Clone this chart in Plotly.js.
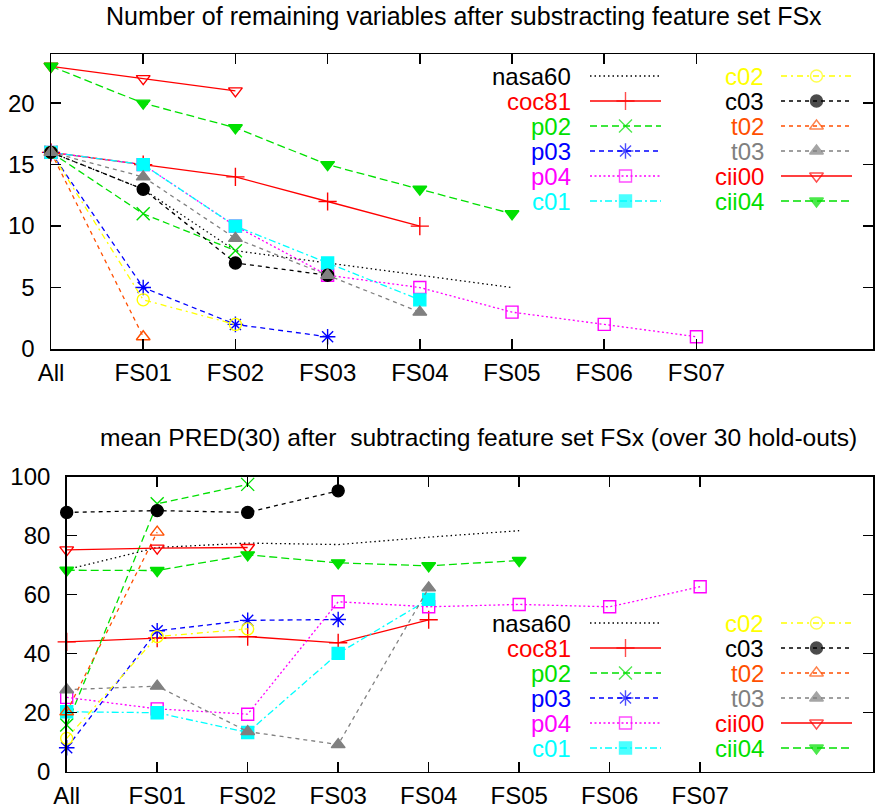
<!DOCTYPE html>
<html><head><meta charset="utf-8">
<script src="https://cdn.plot.ly/plotly-3.0.1.min.js"></script>
<style>html,body{margin:0;padding:0;background:#fff}#chart{width:875px;height:812px}</style>
</head><body><div id="chart"></div>
<script>
// ---- data ----
const categories = ["All","FS01","FS02","FS03","FS04","FS05","FS06","FS07"];
const seriesNames = ["nasa60","coc81","p02","p03","p04","c01","c02","c03","t02","t03","cii00","cii04"];

// Number of remaining variables
const vars_nasa60 = [16,13,8,7,6,5];
const vars_coc81  = [16,15,14,12,10];
const vars_p02    = [16,11,8];
const vars_p03    = [16,5,2,1];
const vars_p04    = [16,15,10,6,5,3,2,1];
const vars_c01    = [16,15,10,7,4];
const vars_c02    = [16,4,2];
const vars_c03    = [16,13,7,6];
const vars_t02    = [16,1];
const vars_t03    = [16,14,9,6,3];
const vars_cii00  = [23,22,21];
const vars_cii04  = [23,20,18,15,13,11];

// mean PRED(30)
const pred_nasa60 = [68.5,76,77.5,77,79.5,81.7];
const pred_coc81  = [44,45.3,45.8,43.7,51.5];
const pred_p02    = [15.8,90.8,97.4];
const pred_p03    = [8.1,47.8,51.3,51.6];
const pred_p04    = [25.2,21.3,19.5,57.6,55.9,56.7,55.9,62.7];
const pred_c01    = [20.3,20,13.3,40.1,58.4];
const pred_c02    = [11.3,45.8,48.4];
const pred_c03    = [87.9,88.5,87.9,95.2];
const pred_t02    = [20.3,81.2];
const pred_t03    = [27.8,29,13.6,9.2,62.3];
const pred_cii00  = [75.2,75.8,76];
const pred_cii04  = [68.3,68.2,73.5,70.8,69.8,71.6];

const topTitle = "Number of remaining variables after substracting feature set FSx";
const botTitle = "mean PRED(30) after  subtracting feature set FSx (over 30 hold-outs)";
const topYTicks = [0,5,10,15,20];
const botYTicks = [0,20,40,60,80,100];

// ---- styles ----
const styles = {
  nasa60:{color:"#000000", dash:"1.5px,3px", symbol:null},
  coc81: {color:"#ff0000", dash:"solid", symbol:"cross-thin-open"},
  p02:   {color:"#00e000", dash:"7px,4px", symbol:"x-thin-open"},
  p03:   {color:"#0000ff", dash:"5px,4px", symbol:"asterisk-open"},
  p04:   {color:"#ff00ff", dash:"2px,2.5px", symbol:"square-open"},
  c01:   {color:"#00ffff", dash:"7px,3px,2px,3px", symbol:"square"},
  c02:   {color:"#ffff00", dash:"6px,4px,2px,4px", symbol:"circle-open"},
  c03:   {color:"#000000", dash:"4px,4px", symbol:"circle"},
  t02:   {color:"#ff4f00", dash:"4px,4px", symbol:"triangle-up-open"},
  t03:   {color:"#808080", dash:"4px,4px", symbol:"triangle-up"},
  cii00: {color:"#ff0000", dash:"solid", symbol:"triangle-down-open"},
  cii04: {color:"#00e000", dash:"8px,4px", symbol:"triangle-down"}
};
const varsData = {nasa60:vars_nasa60,coc81:vars_coc81,p02:vars_p02,p03:vars_p03,p04:vars_p04,c01:vars_c01,c02:vars_c02,c03:vars_c03,t02:vars_t02,t03:vars_t03,cii00:vars_cii00,cii04:vars_cii04};
const predData = {nasa60:pred_nasa60,coc81:pred_coc81,p02:pred_p02,p03:pred_p03,p04:pred_p04,c01:pred_c01,c02:pred_c02,c03:pred_c03,t02:pred_t02,t03:pred_t03,cii00:pred_cii00,cii04:pred_cii04};

const W = 875, H = 812;
const FONT = "Liberation Sans, Arial, sans-serif";
const TITLE_FS = 25, TICK_FS = 24, LEG_FS = 24;

function markerSize(sym){
  if(!sym) return 0;
  if(sym.indexOf("circle")===0) return 12;
  if(sym.indexOf("square")===0) return 12;
  if(sym.indexOf("triangle")===0) return 12;
  return 13;
}

const traces = [];
function makeTrace(s, x, y, xa, ya, sizes){
  const t = {type:"scatter", mode: s.symbol ? "lines+markers" : "lines", x:x, y:y, xaxis:xa, yaxis:ya,
    line:{color:s.color, width:1.3, dash:s.dash}, showlegend:false, hoverinfo:"skip", cliponaxis:false};
  if(s.symbol){
    t.marker = {symbol:s.symbol, size: sizes || markerSize(s.symbol), color:s.color, line:{color:s.color, width:1.4}};
  }
  return t;
}
function addSeries(dataMap, xa, ya){
  seriesNames.forEach(n=>{
    const ys = dataMap[n];
    traces.push(makeTrace(styles[n], categories.slice(0, ys.length), ys, xa, ya));
  });
}
addSeries(varsData, "x", "y");
addSeries(predData, "x2", "y2");

// ---- manual legends (pixel coordinates on hidden overlay axes) ----
const annotations = [];
function addLegend(rowY0, rowStep){
  seriesNames.forEach((n,i)=>{
    const col = Math.floor(i/6), row = i%6;
    const textR = col===0 ? 573 : 766;
    const l1 = col===0 ? 590 : 781, l2 = col===0 ? 661 : 852;
    const y = rowY0 + row*rowStep;
    const s = styles[n];
    annotations.push({xref:"x3", yref:"y3", x:textR, y:y, text:n, showarrow:false, xanchor:"right", yanchor:"middle",
      font:{family:FONT, size:LEG_FS, color:s.color}});
    const ms = markerSize(s.symbol);
    traces.push(makeTrace(s, [l1,(l1+l2)/2,l2], [y,y,y], "x3", "y3", [0,ms,0]));
  });
}
addLegend(76, 25);
addLegend(623, 25);

// titles
annotations.push({xref:"paper", yref:"paper", x:464/W, y:1-16/H, text:topTitle, showarrow:false, xanchor:"center", yanchor:"middle", font:{family:FONT,size:TITLE_FS,color:"#000"}});
annotations.push({xref:"paper", yref:"paper", x:478/W, y:1-437/H, text:botTitle, showarrow:false, xanchor:"center", yanchor:"middle", font:{family:FONT,size:24.6,color:"#000"}});

const axCommon = {showline:true, mirror:"ticks", linecolor:"#000", linewidth:1.5, ticks:"inside", ticklen:10, tickwidth:1.5, tickcolor:"#000",
  showgrid:false, zeroline:false, tickfont:{family:FONT, size:TICK_FS, color:"#000"}, fixedrange:true};

const layout = {
  width:W, height:H, margin:{l:0,r:0,t:0,b:0}, paper_bgcolor:"#fff", plot_bgcolor:"rgba(0,0,0,0)",
  showlegend:false,
  xaxis: Object.assign({}, axCommon, {domain:[51/W, 873/W], anchor:"y", type:"category", categoryorder:"array", categoryarray:categories,
    range:[0, 8.915], tickvals:categories, ticktext:categories, ticklabelstandoff:2}),
  yaxis: Object.assign({}, axCommon, {domain:[1-349/H, 1-54/H], anchor:"x", range:[0,24], tickvals:topYTicks, ticklabelstandoff:10}),
  xaxis2: Object.assign({}, axCommon, {domain:[66.7/W, 873/W], anchor:"y2", type:"category", categoryorder:"array", categoryarray:categories,
    range:[0, 8.91], tickvals:categories, ticktext:categories, ticklabelstandoff:2}),
  yaxis2: Object.assign({}, axCommon, {domain:[1-771.7/H, 1-476.7/H], anchor:"x2", range:[0,100], tickvals:botYTicks, ticklabelstandoff:10}),
  xaxis3: {domain:[0,1], range:[0,W], visible:false, anchor:"y3", fixedrange:true},
  yaxis3: {domain:[0,1], range:[H,0], visible:false, anchor:"x3", fixedrange:true},
  annotations: annotations
};

Plotly.newPlot("chart", traces, layout, {displayModeBar:false, staticPlot:true});
</script>
</body></html>
